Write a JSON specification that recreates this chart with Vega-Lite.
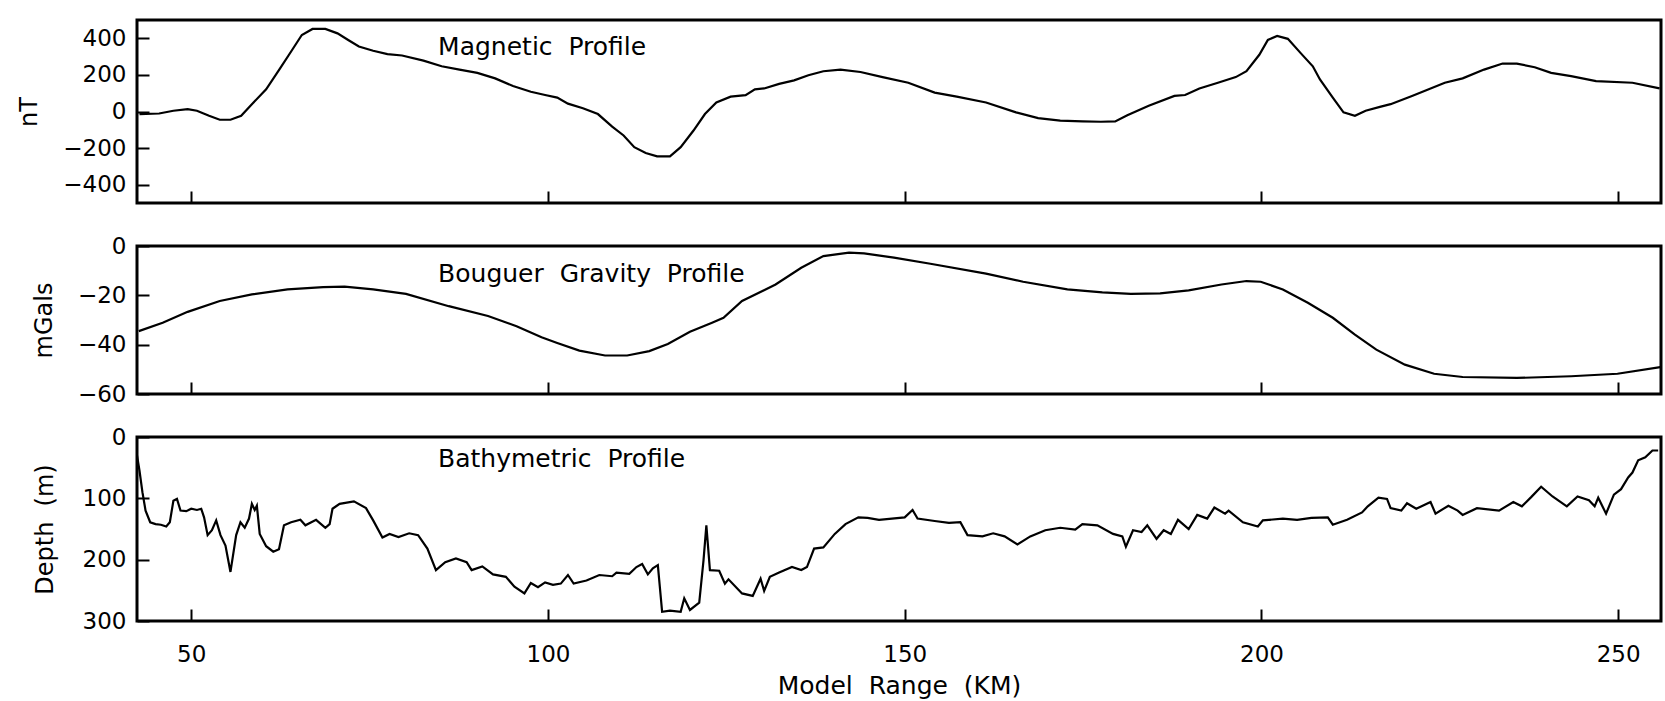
{
  "$schema": "https://vega.github.io/schema/vega-lite/v6.json",
  "autosize": {"type": "pad"},
  "padding": {"left": 15, "top": 18, "right": 4, "bottom": 4},
  "background": "white",
  "config": {
    "font": "DejaVu Sans",
    "view": {"stroke": "black", "strokeWidth": 3},
    "axis": {
      "domain": false, "grid": false, "ticks": true,
      "tickColor": "black", "tickWidth": 2, "tickSize": -12,
      "labelFont": "DejaVu Sans", "labelFontSize": 23, "labelColor": "black", "labelFlush": false, "labelOverlap": false,
      "titleFont": "DejaVu Sans", "titleFontSize": 24, "titleFontWeight": "normal", "titleColor": "black"
    }
  },
  "datasets": {
    "mag": [
      {"km": 42.75, "nT": -14}, {"km": 45.5, "nT": -11}, {"km": 47.5, "nT": 4}, {"km": 49.5, "nT": 13}, {"km": 50.8, "nT": 4},
      {"km": 52.5, "nT": -23}, {"km": 54.0, "nT": -45}, {"km": 55.5, "nT": -45}, {"km": 57.0, "nT": -23}, {"km": 58.5, "nT": 40},
      {"km": 60.5, "nT": 121}, {"km": 62.5, "nT": 238}, {"km": 64.0, "nT": 328}, {"km": 65.5, "nT": 418}, {"km": 67.0, "nT": 451},
      {"km": 68.8, "nT": 451}, {"km": 70.5, "nT": 427}, {"km": 72.0, "nT": 391}, {"km": 73.5, "nT": 355}, {"km": 75.5, "nT": 332},
      {"km": 77.5, "nT": 314}, {"km": 79.55, "nT": 306}, {"km": 82.55, "nT": 278}, {"km": 85.1, "nT": 247}, {"km": 87.6, "nT": 229},
      {"km": 90.1, "nT": 211}, {"km": 92.6, "nT": 181}, {"km": 95.1, "nT": 139}, {"km": 97.6, "nT": 108}, {"km": 99.6, "nT": 90},
      {"km": 101.3, "nT": 76}, {"km": 102.8, "nT": 43}, {"km": 104.9, "nT": 18}, {"km": 107.0, "nT": -14}, {"km": 109.0, "nT": -83},
      {"km": 110.6, "nT": -131}, {"km": 112.1, "nT": -195}, {"km": 113.7, "nT": -227}, {"km": 115.3, "nT": -245}, {"km": 117.1, "nT": -245},
      {"km": 118.6, "nT": -195}, {"km": 120.4, "nT": -104}, {"km": 122.0, "nT": -14}, {"km": 123.6, "nT": 49}, {"km": 125.6, "nT": 81},
      {"km": 127.7, "nT": 89}, {"km": 129.0, "nT": 121}, {"km": 130.3, "nT": 126}, {"km": 132.4, "nT": 151}, {"km": 134.5, "nT": 170},
      {"km": 136.5, "nT": 198}, {"km": 138.6, "nT": 220}, {"km": 141.0, "nT": 229}, {"km": 143.8, "nT": 216}, {"km": 146.9, "nT": 188},
      {"km": 150.5, "nT": 157}, {"km": 154.2, "nT": 103}, {"km": 157.3, "nT": 81}, {"km": 161.4, "nT": 49}, {"km": 165.6, "nT": -5},
      {"km": 168.7, "nT": -36}, {"km": 171.8, "nT": -50}, {"km": 174.9, "nT": -54}, {"km": 177.5, "nT": -56}, {"km": 179.5, "nT": -54},
      {"km": 181.2, "nT": -20}, {"km": 184.2, "nT": 31}, {"km": 187.8, "nT": 85}, {"km": 189.3, "nT": 90}, {"km": 191.3, "nT": 126},
      {"km": 193.9, "nT": 157}, {"km": 196.4, "nT": 188}, {"km": 197.9, "nT": 220}, {"km": 199.7, "nT": 310}, {"km": 200.9, "nT": 391},
      {"km": 202.2, "nT": 413}, {"km": 203.7, "nT": 397}, {"km": 205.5, "nT": 319}, {"km": 207.2, "nT": 247}, {"km": 208.2, "nT": 175},
      {"km": 210.0, "nT": 76}, {"km": 211.5, "nT": -5}, {"km": 213.1, "nT": -23}, {"km": 214.6, "nT": 4}, {"km": 216.6, "nT": 25},
      {"km": 218.1, "nT": 40}, {"km": 221.1, "nT": 85}, {"km": 223.1, "nT": 116}, {"km": 225.7, "nT": 157}, {"km": 228.2, "nT": 181},
      {"km": 231.2, "nT": 229}, {"km": 233.8, "nT": 262}, {"km": 235.8, "nT": 262}, {"km": 238.3, "nT": 242}, {"km": 240.6, "nT": 211},
      {"km": 243.4, "nT": 193}, {"km": 246.9, "nT": 166}, {"km": 252.0, "nT": 157}, {"km": 255.8, "nT": 126}
    ],
    "grav": [
      {"km": 42.65, "mGal": -34.5}, {"km": 46.0, "mGal": -31.1}, {"km": 49.5, "mGal": -26.7}, {"km": 54.0, "mGal": -22.3}, {"km": 58.5, "mGal": -19.6},
      {"km": 63.5, "mGal": -17.6}, {"km": 68.5, "mGal": -16.7}, {"km": 71.5, "mGal": -16.5}, {"km": 75.5, "mGal": -17.6}, {"km": 80.1, "mGal": -19.4},
      {"km": 86.1, "mGal": -24.4}, {"km": 91.6, "mGal": -28.4}, {"km": 95.6, "mGal": -32.5}, {"km": 99.1, "mGal": -37.0}, {"km": 101.3, "mGal": -39.3},
      {"km": 104.4, "mGal": -42.4}, {"km": 108.0, "mGal": -44.4}, {"km": 111.1, "mGal": -44.4}, {"km": 114.2, "mGal": -42.6}, {"km": 116.8, "mGal": -39.7},
      {"km": 119.9, "mGal": -34.8}, {"km": 123.0, "mGal": -31.1}, {"km": 124.6, "mGal": -29.1}, {"km": 127.2, "mGal": -22.3}, {"km": 131.9, "mGal": -15.6},
      {"km": 135.5, "mGal": -8.8}, {"km": 138.6, "mGal": -4.1}, {"km": 142.2, "mGal": -2.7}, {"km": 144.3, "mGal": -3.0}, {"km": 148.5, "mGal": -4.7},
      {"km": 153.6, "mGal": -7.2}, {"km": 161.4, "mGal": -11.2}, {"km": 166.6, "mGal": -14.5}, {"km": 172.8, "mGal": -17.6}, {"km": 177.7, "mGal": -18.8},
      {"km": 181.7, "mGal": -19.4}, {"km": 185.8, "mGal": -19.2}, {"km": 189.8, "mGal": -18.0}, {"km": 194.4, "mGal": -15.6}, {"km": 197.9, "mGal": -14.2},
      {"km": 199.9, "mGal": -14.5}, {"km": 203.0, "mGal": -17.6}, {"km": 206.5, "mGal": -23.0}, {"km": 210.0, "mGal": -29.1}, {"km": 213.1, "mGal": -35.9},
      {"km": 216.1, "mGal": -42.0}, {"km": 220.1, "mGal": -48.1}, {"km": 224.2, "mGal": -51.8}, {"km": 228.2, "mGal": -53.1}, {"km": 235.8, "mGal": -53.5},
      {"km": 243.4, "mGal": -52.8}, {"km": 249.9, "mGal": -51.8}, {"km": 255.9, "mGal": -49.1}
    ],
    "bathy": [
      {"km": 42.4, "depth": 30}, {"km": 42.75, "depth": 55}, {"km": 43.16, "depth": 90}, {"km": 43.6, "depth": 120}, {"km": 44.25, "depth": 139},
      {"km": 45.0, "depth": 142}, {"km": 45.75, "depth": 143}, {"km": 46.5, "depth": 146}, {"km": 47.0, "depth": 139}, {"km": 47.5, "depth": 104},
      {"km": 48.0, "depth": 101}, {"km": 48.5, "depth": 120}, {"km": 49.3, "depth": 121}, {"km": 50.0, "depth": 117}, {"km": 50.8, "depth": 119},
      {"km": 51.4, "depth": 117}, {"km": 51.8, "depth": 131}, {"km": 52.3, "depth": 160}, {"km": 52.9, "depth": 152}, {"km": 53.5, "depth": 136},
      {"km": 54.1, "depth": 160}, {"km": 54.8, "depth": 177}, {"km": 55.5, "depth": 220}, {"km": 56.3, "depth": 160}, {"km": 56.9, "depth": 139},
      {"km": 57.5, "depth": 148}, {"km": 58.1, "depth": 133}, {"km": 58.5, "depth": 109}, {"km": 58.9, "depth": 119}, {"km": 59.2, "depth": 112},
      {"km": 59.6, "depth": 158}, {"km": 60.5, "depth": 178}, {"km": 61.5, "depth": 187}, {"km": 62.3, "depth": 183}, {"km": 63.0, "depth": 144},
      {"km": 64.0, "depth": 139}, {"km": 65.3, "depth": 135}, {"km": 66.0, "depth": 144}, {"km": 67.5, "depth": 135}, {"km": 68.8, "depth": 148},
      {"km": 69.4, "depth": 142}, {"km": 69.8, "depth": 117}, {"km": 70.8, "depth": 109}, {"km": 72.8, "depth": 105}, {"km": 74.5, "depth": 116},
      {"km": 75.5, "depth": 136}, {"km": 76.8, "depth": 164}, {"km": 77.8, "depth": 158}, {"km": 79.05, "depth": 163}, {"km": 80.55, "depth": 157},
      {"km": 81.8, "depth": 160}, {"km": 83.1, "depth": 182}, {"km": 84.3, "depth": 217}, {"km": 85.6, "depth": 204}, {"km": 87.1, "depth": 198},
      {"km": 88.6, "depth": 204}, {"km": 89.3, "depth": 217}, {"km": 90.8, "depth": 211}, {"km": 92.3, "depth": 224}, {"km": 94.1, "depth": 228},
      {"km": 95.3, "depth": 244}, {"km": 96.7, "depth": 255}, {"km": 97.6, "depth": 238}, {"km": 98.6, "depth": 245}, {"km": 99.6, "depth": 237},
      {"km": 100.7, "depth": 241}, {"km": 101.8, "depth": 239}, {"km": 102.8, "depth": 225}, {"km": 103.6, "depth": 239}, {"km": 105.4, "depth": 234},
      {"km": 107.2, "depth": 225}, {"km": 109.0, "depth": 227}, {"km": 109.6, "depth": 221}, {"km": 111.4, "depth": 223}, {"km": 112.4, "depth": 212},
      {"km": 113.2, "depth": 207}, {"km": 114.0, "depth": 224}, {"km": 114.7, "depth": 214}, {"km": 115.4, "depth": 209}, {"km": 116.0, "depth": 285},
      {"km": 117.1, "depth": 283}, {"km": 118.6, "depth": 285}, {"km": 119.1, "depth": 263}, {"km": 119.9, "depth": 282}, {"km": 121.2, "depth": 270},
      {"km": 121.8, "depth": 201}, {"km": 122.2, "depth": 144}, {"km": 122.7, "depth": 217}, {"km": 124.0, "depth": 218}, {"km": 124.8, "depth": 239},
      {"km": 125.3, "depth": 232}, {"km": 127.2, "depth": 255}, {"km": 128.7, "depth": 259}, {"km": 129.8, "depth": 231}, {"km": 130.3, "depth": 251},
      {"km": 131.1, "depth": 228}, {"km": 132.4, "depth": 221}, {"km": 134.2, "depth": 212}, {"km": 135.5, "depth": 217}, {"km": 136.3, "depth": 212},
      {"km": 137.3, "depth": 182}, {"km": 138.6, "depth": 180}, {"km": 140.2, "depth": 158}, {"km": 141.7, "depth": 142}, {"km": 143.5, "depth": 131},
      {"km": 144.8, "depth": 132}, {"km": 146.4, "depth": 135}, {"km": 150.0, "depth": 131}, {"km": 151.1, "depth": 119}, {"km": 151.8, "depth": 133},
      {"km": 154.2, "depth": 137}, {"km": 156.2, "depth": 140}, {"km": 157.8, "depth": 139}, {"km": 158.8, "depth": 160}, {"km": 160.9, "depth": 162},
      {"km": 162.4, "depth": 157}, {"km": 164.0, "depth": 162}, {"km": 165.8, "depth": 175}, {"km": 167.6, "depth": 162}, {"km": 169.7, "depth": 152},
      {"km": 171.8, "depth": 148}, {"km": 173.9, "depth": 151}, {"km": 174.9, "depth": 142}, {"km": 177.0, "depth": 144}, {"km": 179.2, "depth": 158},
      {"km": 180.5, "depth": 162}, {"km": 181.0, "depth": 179}, {"km": 182.0, "depth": 152}, {"km": 183.2, "depth": 155}, {"km": 184.0, "depth": 144},
      {"km": 185.3, "depth": 166}, {"km": 186.3, "depth": 152}, {"km": 187.3, "depth": 158}, {"km": 188.3, "depth": 135}, {"km": 189.8, "depth": 150},
      {"km": 191.0, "depth": 127}, {"km": 192.4, "depth": 133}, {"km": 193.4, "depth": 115}, {"km": 194.9, "depth": 125}, {"km": 195.4, "depth": 120},
      {"km": 197.4, "depth": 139}, {"km": 199.5, "depth": 146}, {"km": 200.2, "depth": 136}, {"km": 203.0, "depth": 133}, {"km": 205.0, "depth": 135},
      {"km": 207.0, "depth": 132}, {"km": 209.3, "depth": 131}, {"km": 210.0, "depth": 143}, {"km": 212.0, "depth": 135}, {"km": 214.1, "depth": 123},
      {"km": 214.9, "depth": 113}, {"km": 216.4, "depth": 99}, {"km": 217.6, "depth": 101}, {"km": 218.1, "depth": 116}, {"km": 219.6, "depth": 120},
      {"km": 220.4, "depth": 108}, {"km": 221.7, "depth": 117}, {"km": 223.7, "depth": 106}, {"km": 224.4, "depth": 125}, {"km": 226.2, "depth": 112},
      {"km": 227.5, "depth": 120}, {"km": 228.2, "depth": 127}, {"km": 230.2, "depth": 116}, {"km": 233.3, "depth": 120}, {"km": 235.3, "depth": 106},
      {"km": 236.5, "depth": 113}, {"km": 237.8, "depth": 98}, {"km": 239.2, "depth": 81}, {"km": 240.8, "depth": 97}, {"km": 242.8, "depth": 113},
      {"km": 244.3, "depth": 97}, {"km": 245.9, "depth": 103}, {"km": 246.7, "depth": 113}, {"km": 247.2, "depth": 99}, {"km": 248.3, "depth": 125},
      {"km": 249.4, "depth": 94}, {"km": 250.4, "depth": 85}, {"km": 251.4, "depth": 66}, {"km": 252.0, "depth": 58}, {"km": 252.8, "depth": 38},
      {"km": 253.8, "depth": 33}, {"km": 254.8, "depth": 22}, {"km": 255.6, "depth": 22}
    ],
    "labels": [
      {"panel": "mag", "km": 84.6, "value": 355, "label": "Magnetic\u00a0\u00a0Profile"},
      {"panel": "grav", "km": 84.6, "value": -11.5, "label": "Bouguer\u00a0\u00a0Gravity\u00a0\u00a0Profile"},
      {"panel": "bathy", "km": 84.6, "value": 36, "label": "Bathymetric\u00a0\u00a0Profile"}
    ]
  },
  "spacing": 43,
  "bounds": "flush",
  "vconcat": [
    {
      "width": 1524, "height": 183,
      "layer": [
        {
          "data": {"name": "mag"},
          "mark": {"type": "line", "color": "black", "strokeWidth": 2.2, "clip": true},
          "encoding": {
            "x": {"field": "km", "type": "quantitative", "scale": {"domain": [42.4, 256], "nice": false, "zero": false},
                  "axis": {"values": [50, 100, 150, 200, 250], "labels": false, "title": null}},
            "y": {"field": "nT", "type": "quantitative", "scale": {"domain": [-500, 500], "nice": false, "zero": false},
                  "axis": {"values": [-400, -200, 0, 200, 400], "title": "nT", "titleX": -108, "titleBaseline": "middle", "labelPadding": 23}}
          }
        },
        {
          "data": {"name": "labels"},
          "transform": [{"filter": "datum.panel === 'mag'"}],
          "mark": {"type": "text", "align": "left", "baseline": "middle", "fontSize": 25, "font": "DejaVu Sans", "color": "black"},
          "encoding": {
            "x": {"field": "km", "type": "quantitative"},
            "y": {"field": "value", "type": "quantitative"},
            "text": {"field": "label"}
          }
        }
      ]
    },
    {
      "width": 1524, "height": 148,
      "layer": [
        {
          "data": {"name": "grav"},
          "mark": {"type": "line", "color": "black", "strokeWidth": 2.2, "clip": true},
          "encoding": {
            "x": {"field": "km", "type": "quantitative", "scale": {"domain": [42.4, 256], "nice": false, "zero": false},
                  "axis": {"values": [50, 100, 150, 200, 250], "labels": false, "title": null}},
            "y": {"field": "mGal", "type": "quantitative", "scale": {"domain": [-60, 0], "nice": false, "zero": false},
                  "axis": {"values": [-60, -50, -40, -30, -20, -10, 0], "labelExpr": "datum.value % 20 === 0 ? datum.label : ''",
                           "title": "mGals", "titleX": -93, "titleBaseline": "middle", "labelPadding": 23}}
          }
        },
        {
          "data": {"name": "labels"},
          "transform": [{"filter": "datum.panel === 'grav'"}],
          "mark": {"type": "text", "align": "left", "baseline": "middle", "fontSize": 25, "font": "DejaVu Sans", "color": "black"},
          "encoding": {
            "x": {"field": "km", "type": "quantitative"},
            "y": {"field": "value", "type": "quantitative"},
            "text": {"field": "label"}
          }
        }
      ]
    },
    {
      "width": 1524, "height": 184,
      "layer": [
        {
          "data": {"name": "bathy"},
          "mark": {"type": "line", "color": "black", "strokeWidth": 2.2, "clip": true},
          "encoding": {
            "x": {"field": "km", "type": "quantitative", "scale": {"domain": [42.4, 256], "nice": false, "zero": false},
                  "axis": {"values": [50, 100, 150, 200, 250], "title": "Model\u00a0\u00a0Range\u00a0\u00a0(KM)", "labelPadding": 34,
                           "titleY": 64, "titleBaseline": "middle", "titleFontSize": 25}},
            "y": {"field": "depth", "type": "quantitative", "scale": {"domain": [0, 300], "reverse": true, "nice": false, "zero": false},
                  "axis": {"values": [0, 50, 100, 150, 200, 250, 300], "labelExpr": "datum.value % 100 === 0 ? datum.label : ''",
                           "title": "Depth\u00a0\u00a0(m)", "titleX": -92, "titleBaseline": "middle", "labelPadding": 23}}
          }
        },
        {
          "data": {"name": "labels"},
          "transform": [{"filter": "datum.panel === 'bathy'"}],
          "mark": {"type": "text", "align": "left", "baseline": "middle", "fontSize": 25, "font": "DejaVu Sans", "color": "black"},
          "encoding": {
            "x": {"field": "km", "type": "quantitative"},
            "y": {"field": "value", "type": "quantitative"},
            "text": {"field": "label"}
          }
        }
      ]
    }
  ]
}
